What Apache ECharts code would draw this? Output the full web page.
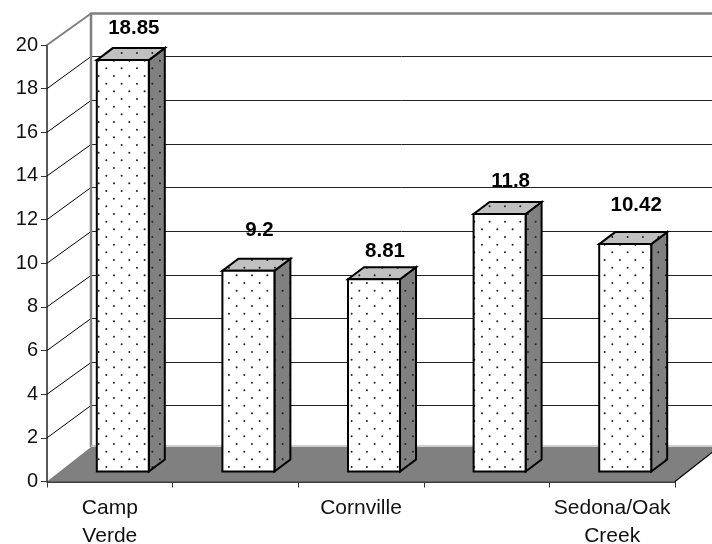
<!DOCTYPE html>
<html>
<head>
<meta charset="utf-8">
<style>html,body{margin:0;padding:0;background:#fff}#c{width:712px;height:544px}</style>
<script src="https://cdn.jsdelivr.net/npm/echarts@6/dist/echarts.min.js"></script>
</head>
<body>
<div id="c"></div>
<script>
const categories = ['Camp\nVerde', '', 'Cornville', '', 'Sedona/Oak\nCreek'];
const values = [18.85, 9.2, 8.81, 11.8, 10.42];
const yTicks = [2, 4, 6, 8, 10, 12, 14, 16, 18, 20];

// Styling constants
const WALL = {dx: 44, dy: 32.4, floorDy: 34.5};
const INSET = {dx: 13, dy: 10};
const DEPTH = {dx: 16, dy: 12};
const BAR_W = 52;
const labelLift = [20, 28, 16, 21, 27];
const LABEL_DX = 11;

function dotPattern() {
  const c = document.createElement('canvas');
  c.width = 46; c.height = 46;
  const g = c.getContext('2d');
  g.fillStyle = '#222';
  const p = 46 / 3;
  const ox = 14.3, oy = 68.3 % p;
  for (let i = -1; i < 4; i++) for (let j = -1; j < 4; j++) {
    g.beginPath(); g.arc(ox + i * p, oy + j * p, 1, 0, 7); g.fill();
    g.beginPath(); g.arc(ox + (i + .5) * p, oy + (j + .5) * p, 1, 0, 7); g.fill();
  }
  return c;
}
const pat = dotPattern();
const pattern = () => ({image: pat, repeat: 'repeat'});

function poly(points, fill, stroke, lw) {
  return {type: 'polygon', shape: {points},
    style: {fill: fill, stroke: stroke || null, lineWidth: lw || 0, lineJoin: 'miter'}};
}
function layered(points, color, stroke, lw) {
  return {type: 'group', children: [
    poly(points, color),
    poly(points, pattern()),
    poly(points, 'none', stroke, lw)
  ]};
}
function line(x1, y1, x2, y2, stroke, lw) {
  return {type: 'line', shape: {x1, y1, x2, y2}, style: {stroke, lineWidth: lw}};
}
const snap = y => Math.round(y) + 0.5;

const chart = echarts.init(document.getElementById('c'), null, {renderer: 'canvas'});
chart.setOption({
  animation: false,
  backgroundColor: '#fff',
  grid: {left: 47, top: 45, width: 628, height: 436.5, containLabel: false, outerBoundsMode: 'none'},
  xAxis: {
    type: 'category', data: categories, boundaryGap: true,
    axisLine: {lineStyle: {color: '#000', width: 1.5}},
    axisTick: {show: true, alignWithLabel: false, length: 6, lineStyle: {color: '#333', width: 1}},
    axisLabel: {interval: 0, color: '#111', fontFamily: 'Liberation Sans', fontSize: 21,
      lineHeight: 28, margin: 13, hideOverlap: false},
    splitLine: {show: false}
  },
  yAxis: {
    type: 'value', min: 0, max: 20, interval: 2,
    axisLine: {show: true, lineStyle: {color: '#222', width: 1.5}},
    axisTick: {show: true, length: 6, lineStyle: {color: '#333', width: 1}},
    axisLabel: {color: '#111', fontFamily: 'Liberation Sans', fontSize: 20, margin: 9},
    splitLine: {show: false}
  },
  series: [
    { // wall grid lines
      type: 'custom', coordinateSystem: 'cartesian2d', silent: true, clip: false, z: 1,
      data: yTicks.map(v => [0, v]),
      renderItem(params, api) {
        const y = api.coord([0, api.value(1)])[1];
        const x0 = params.coordSys.x;
        const W = api.getWidth();
        const yb = snap(y - WALL.dy);
        if (api.value(1) === 20) {
          return {type: 'group', children: [
            line(x0, y, x0 + WALL.dx, yb, '#808080', 2),
            line(x0 + WALL.dx, yb, W, yb, '#808080', 2.5)
          ]};
        }
        return {type: 'group', children: [
          line(x0, y, x0 + WALL.dx, yb, '#000', 1),
          line(x0 + WALL.dx, yb, W, yb, '#222', 1)
        ]};
      }
    },
    { // back wall edge and floor
      type: 'custom', coordinateSystem: 'cartesian2d', silent: true, clip: false, z: 2,
      data: [[0, 0]],
      renderItem(params, api) {
        const cs = params.coordSys;
        const y0 = api.coord([0, 0])[1], yT = api.coord([0, 20])[1];
        const xb = cs.x + WALL.dx, yb = y0 - WALL.floorDy, xr = cs.x + cs.width;
        return {type: 'group', children: [
          line(xb, yT - WALL.dy, xb, yb, '#808080', 2.5),
          line(xb, yb - 1, api.getWidth(), yb - 1, '#c0c0c0', 1.5),
          poly([[cs.x, y0], [xb, yb], [xr + WALL.dx, yb], [xr, y0]], '#808080'),
          line(xr, y0, xr + WALL.dx, yb, '#000', 1.2)
        ]};
      }
    },
    { // 3D bars
      type: 'custom', coordinateSystem: 'cartesian2d', silent: true, clip: false, z: 3,
      data: values.map((v, i) => [i, v]),
      renderItem(params, api) {
        const i = api.value(0), v = api.value(1);
        const top = api.coord([i, v]), base = api.coord([i, 0]);
        const l = top[0] + INSET.dx - BAR_W / 2, r = l + BAR_W;
        const t = top[1] - INSET.dy, b = base[1] - INSET.dy;
        const dx = DEPTH.dx, dy = DEPTH.dy;
        return {type: 'group', children: [
          layered([[r, t], [r + dx, t - dy], [r + dx, b - dy], [r, b]], '#808080', '#000', 2),
          layered([[l, t], [l + dx, t - dy], [r + dx, t - dy], [r, t]], '#c0c0c0', '#000', 2),
          layered([[l, t], [r, t], [r, b], [l, b]], '#fff', '#000', 2),
          {type: 'text', style: {
            text: String(v), x: top[0] + INSET.dx + LABEL_DX, y: t - dy - labelLift[i],
            align: 'center', verticalAlign: 'middle',
            font: 'bold 20.5px "Liberation Sans"', fill: '#000'}}
        ]};
      }
    }
  ]
});
</script>
</body>
</html>
